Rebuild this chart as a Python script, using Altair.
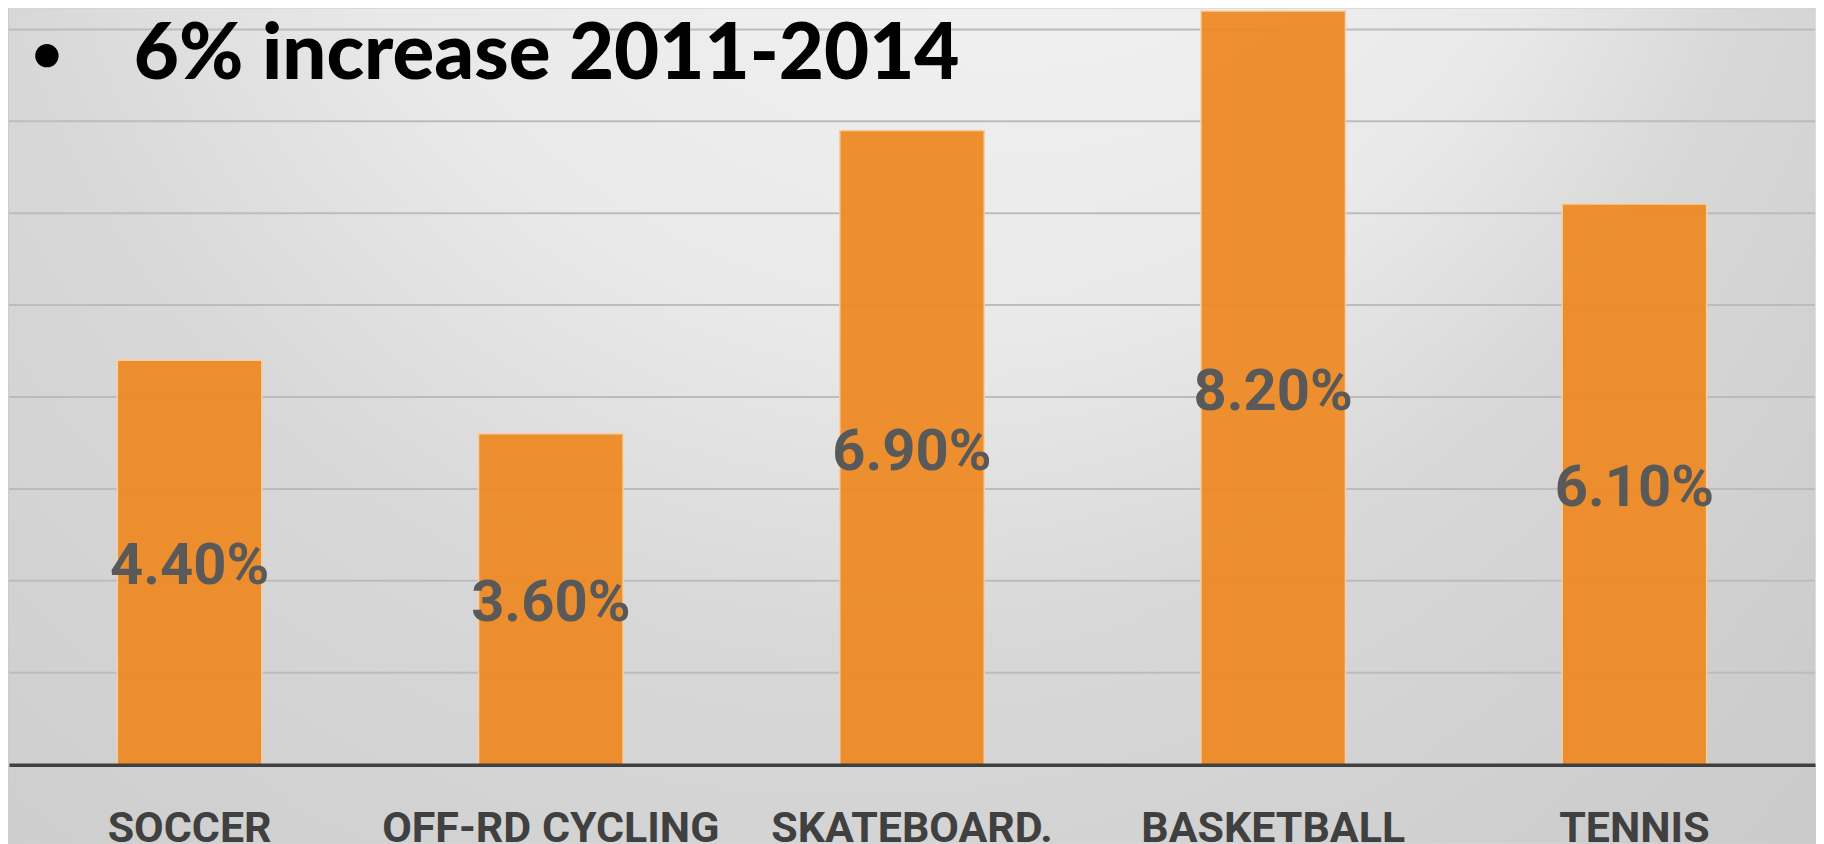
import altair as alt
import pandas as pd

sports = ["SOCCER", "OFF-RD CYCLING", "SKATEBOARD.", "BASKETBALL", "TENNIS"]
growth = [4.4, 3.6, 6.9, 8.2, 6.1]
gridlines = [1, 2, 3, 4, 5, 6, 7, 8]
headline = "6% increase 2011-2014"
bullet = "•"

W, H = 1808, 757
ydom = [0, 8.228]
SANS = "Roboto, sans-serif"

df = pd.DataFrame({"sport": sports, "value": growth})
gdf = pd.DataFrame({"g": gridlines})

ysc = alt.Scale(domain=ydom, nice=False, zero=True)
xaxis = alt.Axis(
    title=None, labelAngle=0, ticks=False, grid=False,
    domainColor="#404040", domainWidth=3.5,
    labelFont=SANS, labelFontSize=43, labelFontWeight="bold",
    labelColor="#404040", labelPadding=77, labelBaseline="alphabetic",
    labelLimit=1000, zindex=1,
)
xenc = alt.X("sport:N", sort=sports,
             scale=alt.Scale(paddingInner=0.6, paddingOuter=0.3), axis=xaxis)

bg = alt.Chart(pd.DataFrame({"a": [0]})).mark_rect(
    fill={
        "gradient": "radial",
        "x1": 0.62, "y1": 0.0, "r1": 0.0,
        "x2": 0.40, "y2": 0.2, "r2": 0.8,
        "stops": [
            {"offset": 0.0, "color": "#fdfdfd"},
            {"offset": 0.26, "color": "#f0f0f0"},
            {"offset": 0.45, "color": "#e9e9e9"},
            {"offset": 0.62, "color": "#d8d8d8"},
            {"offset": 0.9, "color": "#cdcdcd"},
            {"offset": 1.0, "color": "#cbcbcb"},
        ],
    }
).encode(x=alt.value(0), x2=alt.value(W), y=alt.value(0), y2=alt.value(836))

grid = alt.Chart(gdf).mark_rule(color="#bcbcbc", strokeWidth=2).encode(
    y=alt.Y("g:Q", scale=ysc, axis=None)
)

bars = alt.Chart(df).mark_bar(
    fill="#EE8B25", opacity=0.95, stroke="#F7CFA0", strokeWidth=1.5
).encode(
    x=xenc,
    y=alt.Y("value:Q", scale=ysc, axis=None),
)

labels = alt.Chart(df).transform_calculate(
    mid="datum.value / 2",
    lab="format(datum.value, '.2f') + '%'",
).mark_text(
    font=SANS, fontSize=58, fontWeight="bold", color="#595959",
    baseline="middle", dy=5
).encode(
    x=xenc,
    y=alt.Y("mid:Q", scale=ysc, axis=None),
    text="lab:N",
)

tdf = pd.DataFrame({"t": [headline], "b": [bullet]})
title = alt.Chart(tdf).mark_text(
    font="Lato, sans-serif", fontSize=78, fontWeight=900, color="#000000",
    align="left", baseline="alphabetic"
).encode(x=alt.value(125), y=alt.value(71), text="t:N")
bul = alt.Chart(tdf).mark_text(
    font="Lato, sans-serif", fontSize=54, fontWeight="bold", color="#000000",
    align="center", baseline="middle"
).encode(x=alt.value(38), y=alt.value(48), text="b:N")

chart = alt.layer(bg, grid, bars, labels, title, bul).properties(
    width=W, height=H, padding=0
).configure_view(stroke=None).configure(background="#cccccc")

chart.save("out.html", embed_options={"renderer": "svg", "actions": False})
